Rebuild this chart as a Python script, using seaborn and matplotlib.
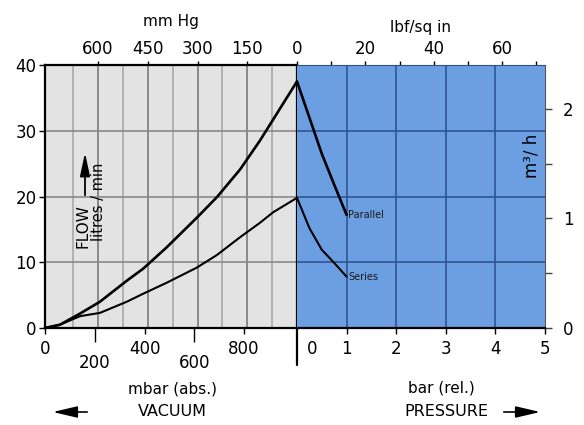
import matplotlib
matplotlib.use("Agg")
import matplotlib.pyplot as plt
import matplotlib.transforms as mtransforms
from matplotlib.patches import FancyArrowPatch
import seaborn as sns

# flow in l/min, vacuum side in mbar (abs.), pressure side in bar (rel.)
vac_mbar = [0, 60, 141, 221, 329, 394, 490, 611, 691, 784, 864, 917, 1013]
vac_parallel = [0, 0.5, 2.2, 4.0, 7.2, 9.0, 12.3, 16.8, 19.9, 24.1, 28.5, 31.7, 37.5]
vac_series = [0, 0.5, 1.8, 2.3, 4.0, 5.2, 6.9, 9.2, 11.1, 13.8, 16.0, 17.6, 19.8]

pres_bar = [0, 0.25, 0.5, 0.75, 1.0]
pres_parallel = [37.5, 32.0, 26.5, 21.8, 17.2]
pres_series = [19.8, 15.2, 11.9, 9.9, 7.8]

mbar_major = [0, 400, 800]
mbar_minor = [200, 600]
bar_ticks = [0, 1, 2, 3, 4, 5]
mmhg_ticks = [600, 450, 300, 150]
psi_ticks = [0, 20, 40, 60]
psi_minor = [10, 30, 50, 70]
flow_ticks = [0, 10, 20, 30, 40]
m3h_ticks = [0, 1, 2]
m3h_minor = [0.5, 1.5]

ATM = 1013.0
MMHG = 1.33322
PSI = 14.5038

GRAY_BG = '#e3e3e3'
BLUE_BG = '#6c9fe2'

sns.set_style("white")
plt.rcParams['font.family'] = ['DejaVu Sans']
plt.rcParams['text.color'] = 'black'
plt.rcParams['axes.labelcolor'] = 'black'
plt.rcParams['xtick.color'] = 'black'
plt.rcParams['ytick.color'] = 'black'

W, H = 584, 425
fig = plt.figure(figsize=(W / 100, H / 100), dpi=100)


def box(x0, y0, x1, y1):
    return [x0 / W, 1 - y1 / H, (x1 - x0) / W, (y1 - y0) / H]


def fp(x, y):
    return (x / W, 1 - y / H)


ax_v = fig.add_axes(box(45, 65, 297, 328))
ax_p = fig.add_axes(box(297, 65, 545, 328))
ax_v.set_facecolor(GRAY_BG)
ax_p.set_facecolor(BLUE_BG)

# grid: vacuum side every 75 mm Hg, pressure side every bar
for mm in range(75, 750, 75):
    ax_v.axvline(ATM - mm * MMHG, color='#7a7a7a' if mm % 150 == 0 else '#a9a9a9',
                 lw=1.2, zorder=0.5)
for b in bar_ticks[1:-1]:
    ax_p.axvline(b, color='#2f5590', lw=1.2, zorder=0.5)
for f in flow_ticks[1:-1]:
    ax_v.axhline(f, color='#8a8a8a', lw=1.2, zorder=0.5)
    ax_p.axhline(f, color='#2f5590', lw=1.2, zorder=0.5)

# curves
sns.lineplot(x=vac_mbar, y=vac_parallel, ax=ax_v, color='black', lw=1.9)
sns.lineplot(x=vac_mbar, y=vac_series, ax=ax_v, color='black', lw=1.5)
sns.lineplot(x=pres_bar, y=pres_parallel, ax=ax_p, color='black', lw=1.9)
sns.lineplot(x=pres_bar, y=pres_series, ax=ax_p, color='black', lw=1.5)
for l in ax_v.lines[-2:] + ax_p.lines[-2:]:
    l.set_clip_on(False)

ax_p.text(1.03, pres_parallel[-1], 'Parallel', fontsize=7, color='#1a1a1a', va='center')
ax_p.text(1.03, pres_series[-1], 'Series', fontsize=7, color='#1a1a1a', va='center')

ax_v.set_xlim(0, ATM)
ax_v.set_ylim(0, 40)
ax_p.set_xlim(0, 5)
ax_p.set_ylim(0, 40)

# vacuum axis (mbar, staggered labels)
ax_v.set_xticks(mbar_major, [str(v) for v in mbar_major])
ax_v.set_xticks(mbar_minor, [str(v) for v in mbar_minor], minor=True)
ax_v.set_yticks(flow_ticks, [str(v) for v in flow_ticks])
ax_v.tick_params(axis='both', which='major', labelsize=12, length=4, width=1,
                 color='black', bottom=True, left=True, pad=2)
ax_v.tick_params(axis='x', which='major', pad=5)
ax_v.tick_params(axis='x', which='minor', labelsize=12, length=10, width=1,
                 pad=9, color='black', bottom=True)
ax_v.set_xlabel('')
ax_v.set_ylabel('')
for s in ['left', 'bottom', 'top']:
    ax_v.spines[s].set_color('black')
    ax_v.spines[s].set_linewidth(1.6)
ax_v.spines['right'].set_visible(False)

# divider line at atmospheric pressure
ax_v.axvline(ATM, ymin=-0.14, ymax=1, color='black', lw=1.6, clip_on=False, zorder=5)

# pressure axis (bar)
ax_p.set_xticks(bar_ticks, [str(v) for v in bar_ticks])
ax_p.set_yticks([])
ax_p.tick_params(axis='x', labelsize=12, length=4, width=1, color='black',
                 bottom=True, pad=5)
ax_p.set_xlabel('')
ax_p.set_ylabel('')
ax_p.spines['left'].set_visible(False)
ax_p.spines['bottom'].set_color('black')
ax_p.spines['bottom'].set_linewidth(1.6)
ax_p.spines['top'].set_color('#2f4f80')
ax_p.spines['right'].set_color('#555555')
zero_lab = ax_p.get_xticklabels()[0]
zero_lab.set_transform(zero_lab.get_transform() +
                       mtransforms.ScaledTranslation(11 / 72, 0, fig.dpi_scale_trans))
ax_p.xaxis.get_major_ticks()[0].tick1line.set_visible(False)

# top axes: mm Hg and lbf/sq in
top_v = ax_v.secondary_xaxis('top')
top_v.set_xticks([ATM - m * MMHG for m in mmhg_ticks], [str(m) for m in mmhg_ticks])
top_v.tick_params(labelsize=12, length=3, width=1, color='black', pad=2)
top_v.set_xlabel('mm Hg', fontsize=11, labelpad=10)
top_v.spines['top'].set_visible(False)

top_p = ax_p.secondary_xaxis('top')
top_p.set_xticks([p / PSI for p in psi_ticks], [str(p) for p in psi_ticks])
top_p.set_xticks([p / PSI for p in psi_minor], minor=True)
top_p.tick_params(which='both', labelsize=12, length=3, width=1, color='black', pad=2)
top_p.set_xlabel('lbf/sq in', fontsize=11, labelpad=6)
top_p.spines['top'].set_visible(False)

# right axis: m3/h
right_p = ax_p.secondary_yaxis('right', functions=(lambda v: v * 0.06, lambda v: v / 0.06))
right_p.set_yticks(m3h_ticks, [str(v) for v in m3h_ticks])
right_p.set_yticks(m3h_minor, minor=True)
right_p.tick_params(which='both', labelsize=12, length=5, width=1, color='#444444', pad=8)
right_p.spines['right'].set_visible(False)
ax_p.text(0.945, 0.655, 'm³/ h', transform=ax_p.transAxes, rotation=90,
          fontsize=12, ha='center', va='center')

# FLOW label with arrow
fig.text(*fp(83, 226), 'FLOW', rotation=90, fontsize=11, ha='center', va='center')
fig.text(*fp(99, 202), 'litres / min', rotation=90, fontsize=10.5, ha='center', va='center')
fig.add_artist(FancyArrowPatch(
    fp(85, 198), fp(85, 150), transform=fig.transFigure,
    arrowstyle='-|>,head_length=14,head_width=3', color='black', lw=1.3))

# bottom labels
fig.text(*fp(173, 389), 'mbar (abs.)', fontsize=11, ha='center', va='center')
fig.text(*fp(172, 411), 'VACUUM', fontsize=11.5, ha='center', va='center')
fig.text(*fp(441, 388), 'bar (rel.)', fontsize=11, ha='center', va='center')
fig.text(*fp(446, 412), 'PRESSURE', fontsize=11.5, ha='center', va='center')
fig.add_artist(FancyArrowPatch(
    fp(90, 412), fp(50, 412), transform=fig.transFigure,
    arrowstyle='-|>,head_length=15,head_width=3.5', color='black', lw=1.2))
fig.add_artist(FancyArrowPatch(
    fp(501, 412), fp(543, 412), transform=fig.transFigure,
    arrowstyle='-|>,head_length=15,head_width=3.5', color='black', lw=1.2))

fig.savefig('out.png', dpi=100)
